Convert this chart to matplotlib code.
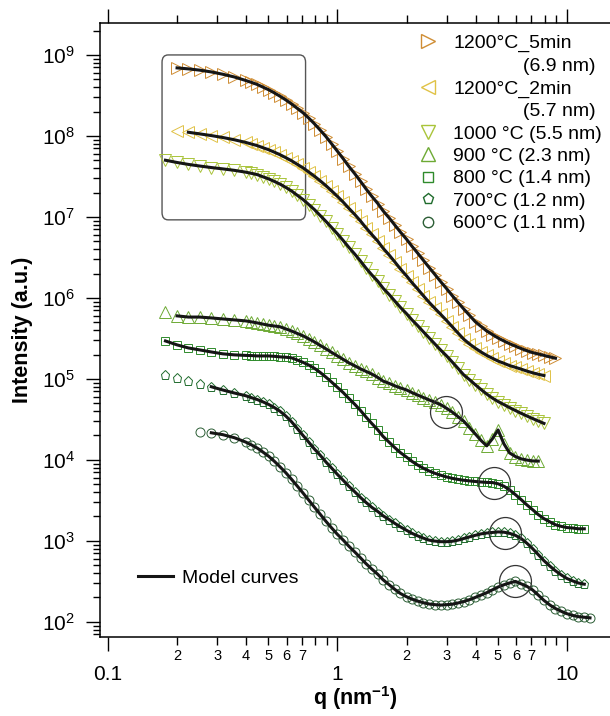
import numpy as np
import matplotlib.pyplot as plt
from matplotlib.lines import Line2D
from matplotlib.patches import FancyBboxPatch
from matplotlib.ticker import FixedLocator, LogLocator, FuncFormatter, NullFormatter

plt.rcParams['font.family'] = ['Liberation Sans', 'DejaVu Sans']
plt.rcParams['mathtext.fontset'] = 'custom'
plt.rcParams['mathtext.rm'] = 'Liberation Sans'
plt.rcParams['mathtext.bf'] = 'Liberation Sans:bold'

##
# Data (q in nm^-1, intensity in a.u.)
##
q_grid = [0.178, 0.200, 0.224, 0.251, 0.282, 0.316, 0.355, 0.398, 0.422, 0.447,
          0.473, 0.501, 0.531, 0.562, 0.596, 0.631, 0.668, 0.708, 0.750, 0.794,
          0.841, 0.891, 0.944, 1.00, 1.06, 1.12, 1.19, 1.26, 1.33, 1.41,
          1.50, 1.58, 1.68, 1.78, 1.88, 2.00, 2.11, 2.24, 2.37, 2.51,
          2.66, 2.82, 2.99, 3.16, 3.35, 3.55, 3.76, 3.98, 4.22, 4.47,
          4.73, 5.01, 5.31, 5.62, 5.96, 6.31, 6.68, 7.08, 7.50, 7.94,
          8.41, 8.91, 9.44, 10.0, 10.6, 11.2, 11.9, 12.6]

q_5min = q_grid[1:62]
I_5min = [6.92e8, 6.73e8, 6.49e8, 6.17e8, 5.78e8, 5.35e8, 4.84e8, 4.58e8, 4.32e8, 4.01e8,
          3.72e8, 3.40e8, 3.09e8, 2.78e8, 2.48e8, 2.19e8, 1.93e8, 1.66e8, 1.41e8, 1.18e8,
          9.8e7, 7.96e7, 6.46e7, 5.22e7, 4.22e7, 3.41e7, 2.75e7, 2.23e7, 1.80e7, 1.46e7,
          1.19e7, 9.7e6, 7.9e6, 6.5e6, 5.3e6, 4.35e6, 3.55e6, 2.90e6, 2.37e6, 1.94e6,
          1.58e6, 1.30e6, 1.07e6, 8.8e5, 7.3e5, 6.1e5, 5.1e5, 4.45e5, 3.9e5, 3.53e5,
          3.2e5, 2.94e5, 2.72e5, 2.54e5, 2.37e5, 2.23e5, 2.11e5, 2.03e5, 1.95e5, 1.87e5,
          1.80e5]

q_2min = q_grid[1:60]
I_2min = [1.15e8, 1.11e8, 1.06e8, 1.01e8, 9.57e7, 8.97e7, 8.32e7, 7.94e7, 7.59e7, 7.16e7,
          6.76e7, 6.30e7, 5.86e7, 5.38e7, 4.93e7, 4.46e7, 4.03e7, 3.58e7, 3.18e7, 2.79e7,
          2.43e7, 2.09e7, 1.79e7, 1.52e7, 1.28e7, 1.07e7, 8.9e6, 7.36e6, 6.08e6, 5.0e6,
          4.11e6, 3.38e6, 2.77e6, 2.28e6, 1.87e6, 1.55e6, 1.28e6, 1.06e6, 8.8e5, 7.4e5,
          6.25e5, 5.25e5, 4.42e5, 3.69e5, 3.09e5, 2.70e5, 2.40e5, 2.15e5, 1.95e5, 1.80e5,
          1.66e5, 1.56e5, 1.46e5, 1.39e5, 1.32e5, 1.25e5, 1.19e5, 1.14e5, 1.10e5]

q_1000 = q_grid[0:60]
I_1000 = [5.01e7, 4.70e7, 4.45e7, 4.25e7, 4.07e7, 3.92e7, 3.76e7, 3.57e7, 3.45e7, 3.33e7,
          3.13e7, 2.95e7, 2.74e7, 2.54e7, 2.31e7, 2.09e7, 1.85e7, 1.64e7, 1.42e7, 1.23e7,
          1.04e7, 8.8e6, 7.38e6, 6.17e6, 5.1e6, 4.22e6, 3.47e6, 2.85e6, 2.34e6, 1.93e6,
          1.60e6, 1.32e6, 1.10e6, 9.1e5, 7.64e5, 6.38e5, 5.37e5, 4.52e5, 3.80e5, 3.20e5,
          2.69e5, 2.26e5, 1.92e5, 1.62e5, 1.35e5, 1.12e5, 9.8e4, 8.5e4, 7.4e4, 6.5e4,
          5.8e4, 5.25e4, 4.82e4, 4.42e4, 4.07e4, 3.76e4, 3.49e4, 3.24e4, 3.02e4, 2.82e4]

q_900 = q_grid[0:59]
I_900 = [6.7e5, 6.0e5, 5.8e5, 5.8e5, 5.66e5, 5.5e5, 5.35e5, 5.2e5, 5.06e5, 4.91e5,
         4.75e5, 4.6e5, 4.5e5, 4.4e5, 4.14e5, 3.9e5, 3.64e5, 3.4e5, 3.12e5, 2.86e5,
         2.59e5, 2.35e5, 2.12e5, 1.92e5, 1.74e5, 1.58e5, 1.45e5, 1.33e5, 1.24e5, 1.15e5,
         1.04e5, 9.4e4, 8.8e4, 8.2e4, 7.74e4, 7.3e4, 6.78e4, 6.3e4, 5.89e4, 5.5e4,
         5.14e4, 4.8e4, 4.33e4, 3.9e4, 3.42e4, 3.0e4, 2.51e4, 2.1e4, 1.74e4, 1.49e4,
         1.82e4, 2.34e4, 1.58e4, 1.22e4, 1.10e4, 1.03e4, 9.95e3, 9.7e3, 9.66e3]

q_800 = q_grid[0:67]
I_800 = [2.94e5, 2.63e5, 2.41e5, 2.28e5, 2.15e5, 2.04e5, 1.98e5, 1.95e5, 1.94e5, 1.92e5,
         1.92e5, 1.92e5, 1.90e5, 1.87e5, 1.85e5, 1.82e5, 1.71e5, 1.60e5, 1.48e5, 1.35e5,
         1.20e5, 1.05e5, 9.1e4, 7.85e4, 6.76e4, 5.75e4, 4.85e4, 4.07e4, 3.39e4, 2.82e4,
         2.34e4, 1.95e4, 1.65e4, 1.41e4, 1.23e4, 1.08e4, 9.6e3, 8.6e3, 7.87e3, 7.28e3,
         6.82e3, 6.46e3, 6.15e3, 5.92e3, 5.74e3, 5.6e3, 5.5e3, 5.41e3, 5.33e3, 5.27e3,
         5.25e3, 5.07e3, 4.73e3, 4.27e3, 3.72e3, 3.24e3, 2.79e3, 2.43e3, 2.11e3, 1.88e3,
         1.72e3, 1.58e3, 1.51e3, 1.46e3, 1.44e3, 1.41e3, 1.41e3]

q_700 = q_grid[0:67]
I_700 = [1.12e5, 1.03e5, 9.4e4, 8.7e4, 8.0e4, 7.3e4, 6.7e4, 6.2e4, 5.86e4, 5.56e4,
         5.21e4, 4.84e4, 4.42e4, 3.98e4, 3.47e4, 2.95e4, 2.44e4, 2.0e4, 1.65e4, 1.36e4,
         1.14e4, 9.4e3, 7.9e3, 6.6e3, 5.58e3, 4.73e3, 4.03e3, 3.43e3, 2.99e3, 2.60e3,
         2.30e3, 2.04e3, 1.83e3, 1.64e3, 1.49e3, 1.35e3, 1.24e3, 1.15e3, 1.08e3, 1.02e3,
         993, 977, 977, 989, 1.02e3, 1.07e3, 1.12e3, 1.17e3, 1.22e3, 1.25e3,
         1.27e3, 1.29e3, 1.28e3, 1.24e3, 1.17e3, 1.07e3, 938, 804, 676, 569,
         490, 427, 380, 343, 320, 302, 292]

q_600 = q_grid[3:68]
I_600 = [2.22e4, 2.16e4, 2.05e4, 1.88e4, 1.66e4, 1.53e4, 1.40e4, 1.25e4, 1.11e4, 9.6e3,
         8.2e3, 6.92e3, 5.75e3, 4.75e3, 3.89e3, 3.18e3, 2.60e3, 2.13e3, 1.74e3, 1.44e3,
         1.20e3, 1.02e3, 861, 728, 617, 525, 449, 385, 331, 287,
         251, 224, 204, 191, 180, 172, 166, 163, 161, 163,
         165, 171, 178, 188, 200, 214, 229, 248, 269, 287,
         302, 316, 295, 275, 248, 214, 184, 162, 146, 135,
         126, 120, 116, 114, 112]

labels = ['1200°C_5min', '1200°C_2min', '1000 °C (5.5 nm)', '900 °C (2.3 nm)',
          '800 °C (1.4 nm)', '700°C (1.2 nm)', '600°C (1.1 nm)']
sizes_2nd = ['(6.9 nm)', '(5.7 nm)', None, None, None, None, None]
model_qmin = [0.19, 0.21, 0.17, 0.19, 0.17, 0.28, 0.26]

# peaks marked with open circles
circle_q = [2.96, 4.81, 5.36, 5.92]
circle_I = [3.9e4, 5.25e3, 1.25e3, 321]

# zoom box (q range, intensity range)
box_q = (0.172, 0.726)
box_I = (9.2e6, 1.0e9)

colors = ['#CF8D34', '#E0C246', '#A9C43A', '#6DAA34', '#2F8B2C', '#1F6B2C', '#2C5E35']
markers = ['>', '<', 'v', '^', 's', 'p', 'o']
msizes = [8, 8, 8, 8, 6, 6.5, 6.5]
leg_sizes = [9.5, 9.5, 9.5, 9.5, 7.5, 8, 7.5]

q_all = [q_5min, q_2min, q_1000, q_900, q_800, q_700, q_600]
I_all = [I_5min, I_2min, I_1000, I_900, I_800, I_700, I_600]

##
# Plot
##
fig = plt.figure(figsize=(6.1, 7.16), dpi=100)
ax = fig.add_axes([100 / 610, 79 / 716, 510 / 610, 614 / 716])
ax.set_xscale('log')
ax.set_yscale('log')

for q, I, c, m, ms in zip(q_all, I_all, colors, markers, msizes):
    ax.plot(q, I, ls='none', marker=m, ms=ms, mfc='none', mec=c, mew=0.7, zorder=2)
for q, I, qmin in zip(q_all, I_all, model_qmin):
    q = np.array(q)
    I = np.array(I)
    keep = q >= qmin
    ax.plot(q[keep], I[keep], color='#151515', lw=2.2, zorder=3)

ax.plot(circle_q, circle_I, ls='none', marker='o', ms=23, mfc='none', mec='#333333',
        mew=0.9, zorder=4)

ax.set_xlim(0.0923, 15.4)
ax.set_ylim(65, 2.48e9)

# ticks
def minor_label(v, pos):
    m = v / 10 ** np.floor(np.log10(v) + 1e-9)
    r = int(round(m))
    return str(r) if 2 <= r <= 7 and abs(m - r) < 0.01 else ''

ax.xaxis.set_major_locator(FixedLocator([0.1, 1, 10]))
ax.xaxis.set_major_formatter(FuncFormatter(lambda v, p: f'{v:g}'))
ax.xaxis.set_minor_locator(LogLocator(base=10, subs=np.arange(2, 10), numticks=20))
ax.xaxis.set_minor_formatter(FuncFormatter(minor_label))
ax.yaxis.set_minor_locator(LogLocator(base=10, subs=np.arange(2, 10), numticks=20))
ax.yaxis.set_minor_formatter(NullFormatter())

ax.tick_params(axis='x', which='major', direction='out', length=10, width=1,
               labelsize=15, pad=10, top=True)
ax.tick_params(axis='x', which='minor', direction='out', length=6, width=1,
               labelsize=10.5, pad=3, top=True)
ax.tick_params(axis='y', which='major', direction='out', length=10, width=1,
               labelsize=15, pad=8)
ax.tick_params(axis='y', which='minor', direction='out', length=5, width=1)

ax.spines['right'].set_visible(False)
for s in ['left', 'top', 'bottom']:
    ax.spines[s].set_linewidth(1.1)

ax.set_ylabel('Intensity (a.u.)', fontsize=15.5, fontweight='bold')
ax.set_xlabel(r'q (nm$^{\mathbf{-1}}$)', fontsize=15.5, fontweight='bold')
ax.yaxis.set_label_coords(-0.131, 0.5)
ax.xaxis.set_label_coords(0.5, -0.076)

# rounded box around the low-q region
to_axes = ax.transData + ax.transAxes.inverted()
(bx0, by0), (bx1, by1) = to_axes.transform([[box_q[0], box_I[0]], [box_q[1], box_I[1]]])
ax.add_patch(FancyBboxPatch((bx0, by0), bx1 - bx0, by1 - by0,
                            boxstyle='round,pad=0,rounding_size=0.012',
                            transform=ax.transAxes, fc='none', ec='#555555', lw=1.0,
                            zorder=1))

# legends
handles, texts = [], []
for lab, extra, c, m, ms in zip(labels, sizes_2nd, colors, markers, leg_sizes):
    handles.append(Line2D([], [], ls='none', marker=m, ms=ms, mfc='none', mec=c, mew=1.0))
    texts.append(lab)
    if extra:
        handles.append(Line2D([], [], ls='none', marker=''))
        texts.append(' ' * 13 + extra)
leg = ax.legend(handles, texts, loc='upper left', bbox_to_anchor=(0.624, 0.981),
                frameon=False, fontsize=14, handlelength=1.0, handletextpad=0.79,
                labelspacing=0.25, borderpad=0, borderaxespad=0)
ax.add_artist(leg)

model_handle = Line2D([], [], color='#151515', lw=2.2)
ax.legend([model_handle], ['Model curves'], loc='center left',
          bbox_to_anchor=(0.0745, 0.0961), frameon=False, fontsize=14,
          handlelength=1.8, handletextpad=0.46, borderpad=0, borderaxespad=0)

fig.savefig('out.png', dpi=100)
